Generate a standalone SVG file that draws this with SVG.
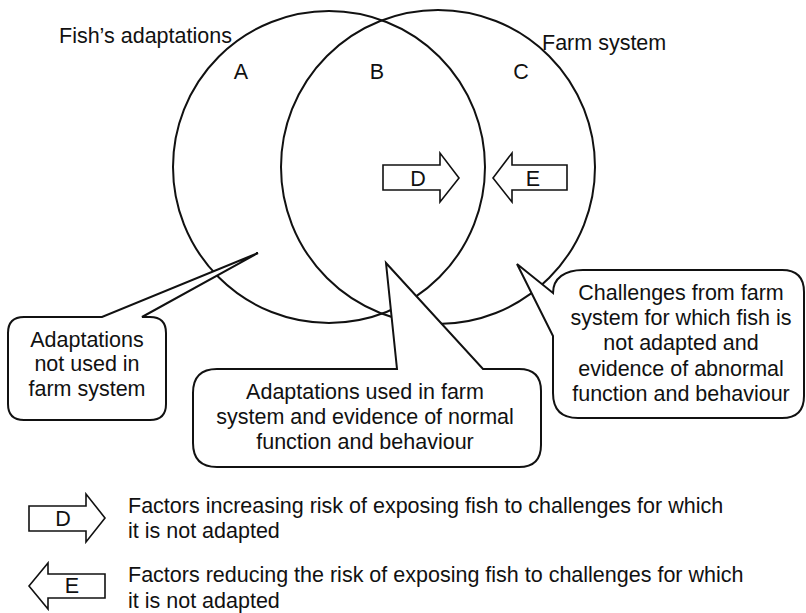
<svg xmlns="http://www.w3.org/2000/svg" width="806" height="613" viewBox="0 0 806 613">
<style>
text{font-family:"Liberation Sans",Arial,sans-serif;font-size:21.5px;fill:#111}
.c{text-anchor:middle}
.circ{fill:none;stroke:#111;stroke-width:2}
.call{fill:#fff;stroke:#111;stroke-width:2;stroke-linejoin:miter}
.arr{fill:#fff;stroke:#111;stroke-width:1.6;stroke-linejoin:miter}
</style>
<rect width="806" height="613" fill="#fff"/>
<g id="circles">
<circle id="circle-fish" class="circ" cx="329" cy="167" r="156"/>
<circle id="circle-farm" class="circ" cx="438" cy="167" r="157"/>
</g>
<g id="labels">
<text x="59" y="43">Fish’s adaptations</text>
<text x="542" y="50">Farm system</text>
<text class="c" x="241" y="79">A</text>
<text class="c" x="377" y="79">B</text>
<text class="c" x="521" y="79">C</text>
</g>
<g id="arrow-D">
<path class="arr" d="M383,165 L440,165 L440,153 L459,178 L440,202 L440,190 L383,190 Z"/>
<text class="c" x="418" y="186">D</text>
</g>
<g id="arrow-E">
<path class="arr" d="M567,165 L512,165 L512,153 L493,178 L512,202 L512,190 L567,190 Z"/>
<text class="c" x="533" y="186">E</text>
</g>
<g id="callout-A">
<path class="call" d="M24,317 L102,317 L258,253 L142,317 L150,317 Q166,317 166,333 L166,404 Q166,420 150,420 L24,420 Q8,420 8,404 L8,333 Q8,317 24,317 Z"/>
<text class="c" x="87" y="347">Adaptations</text>
<text class="c" x="87" y="371">not used in</text>
<text class="c" x="87" y="396">farm system</text>
</g>
<g id="callout-B">
<path class="call" d="M217,369 L397,369 L386,263 L483,369 L519,369 Q541,369 541,391 L541,445 Q541,467 519,467 L217,467 Q193,467 193,443 L193,393 Q193,369 217,369 Z"/>
<text class="c" x="365" y="399">Adaptations used in farm</text>
<text class="c" x="365" y="424">system and evidence of normal</text>
<text class="c" x="365" y="449">function and behaviour</text>
</g>
<g id="callout-C">
<path class="call" d="M517,264 L553,293 C553,278 565,270 583,270 L782,270 Q804,270 804,292 L804,396 Q804,418 782,418 L578,418 Q553,418 553,393 L553,336 Z"/>
<text class="c" x="681" y="300">Challenges from farm</text>
<text class="c" x="681" y="325">system for which fish is</text>
<text class="c" x="681" y="350">not adapted and</text>
<text class="c" x="681" y="376">evidence of abnormal</text>
<text class="c" x="681" y="401">function and behaviour</text>
</g>
<g id="legend-D">
<path class="arr" d="M29,506 L86,506 L86,494 L105,518 L86,542 L86,531 L29,531 Z"/>
<text class="c" x="63" y="526">D</text>
<text x="128" y="513">Factors increasing risk of exposing fish to challenges for which</text>
<text x="128" y="538">it is not adapted</text>
</g>
<g id="legend-E">
<path class="arr" d="M105,574 L48,574 L48,563 L29,586 L48,609 L48,598 L105,598 Z"/>
<text class="c" x="72" y="593">E</text>
<text x="128" y="582">Factors reducing the risk of exposing fish to challenges for which</text>
<text x="128" y="608">it is not adapted</text>
</g>
<g id="connectors"></g>
</svg>
